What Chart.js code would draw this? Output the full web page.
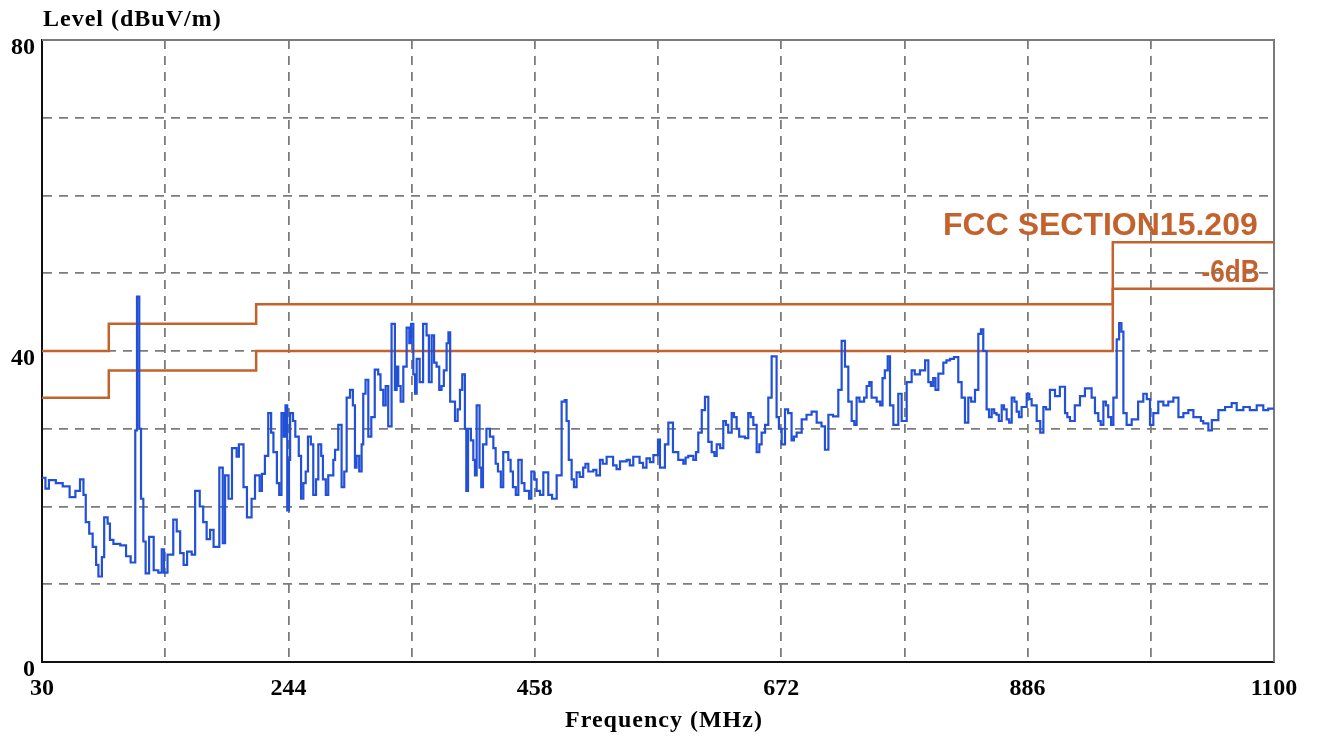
<!DOCTYPE html>
<html>
<head>
<meta charset="utf-8">
<script src="https://cdn.jsdelivr.net/npm/chart.js@4.4.1/dist/chart.umd.min.js"></script>
<style>
  html, body { margin: 0; padding: 0; background: #fff; }
  #wrap { width: 1319px; height: 742px; }
</style>
</head>
<body>
<div id="wrap"><canvas id="chart"></canvas></div>
<script>
// axis text
const yTitle = 'Level (dBuV/m)';
const xTitle = 'Frequency (MHz)';
const xLabels = [30, 244, 458, 672, 886, 1100];
const yLabels = [0, 40, 80];

// FCC 15.209 limit and -6dB margin line (stepped)
const limitName = 'FCC SECTION15.209';
const marginName = '-6dB';
const limitFreq = [30, 88, 216, 960, 1100];
const limitLevel = [40, 43.5, 46, 54, 54];
const marginLevel = [34, 37.5, 40, 48, 48];

const traceFreq = [
  30, 33, 36, 42, 48, 54, 59, 63, 66, 68, 71, 74, 77, 79, 82, 84, 87, 89, 92, 98,
  103, 107, 111, 112.5, 114.5, 116, 118, 120, 123, 127, 131, 134, 136, 139, 144, 147, 150, 153, 156, 160,
  163, 167, 170, 173, 176, 179, 184, 187, 189, 192, 195, 199, 201, 205, 208, 212,
  215, 219, 221, 223.6, 226.5, 229, 231, 234, 236, 238, 240, 241.5, 243, 244.5, 245.5, 248, 250, 253, 255, 257,
  259, 261, 263.5, 265.6, 268, 270, 272.5, 274, 276.5, 278.6, 283, 284.5, 287.3, 290.2, 292.5, 294.6, 297.5, 300, 301.8, 303.2,
  305.5, 307.6, 309, 311, 313.4, 316, 319, 322, 324, 326.4, 328.5, 330.7, 333.6, 336.5, 338, 339.4, 341.5, 343.8, 346.7, 349,
  350.5, 352.5, 354, 355.4, 358, 361, 364, 366, 368.4, 370.5, 372.7, 375, 377, 379, 381.4, 383, 384.5, 388.7, 391, 393,
  395, 397.3, 398.5, 400, 402.5, 404.6, 406, 407.5, 410, 411.5, 413, 416, 419, 422, 424, 426, 428.5, 430.6, 435, 437,
  439, 441.5, 443.7, 446.6, 449, 451, 453, 455, 457.5, 459.6, 462.5, 465.4, 469.7, 473, 477, 481.3, 484, 485.6, 487.5, 490,
  492, 494.3, 497, 500, 502, 504.5, 508.8, 511.5, 514.6, 517, 520.4, 526, 529, 532, 537.8, 540.5, 543.5, 549, 552, 555,
  558, 561, 565, 566.7, 571, 574, 578,
  582.6, 587, 589, 591.3, 595.7, 598, 600, 603, 605.8, 608.7, 611.6, 614, 616, 619, 621.7, 624, 626, 629, 631, 633.3,
  635.5, 637.6, 640.5, 643.4, 645.5, 647.8, 650.7, 653, 655, 658, 660.8, 663.7, 668, 670, 672.4, 675.3, 678, 681, 683, 685.4,
  689.8, 694, 698.4, 702.8, 707, 710, 713, 717, 721.6, 724.5, 727.4, 730.3, 733.2, 735.5, 737.5, 740, 742, 744, 746.2, 748.5,
  750.5, 754.9, 758,
  760, 762, 764.5, 766.5, 769.4, 773.7, 776.6, 781, 785.3, 788, 792.5, 797, 799.8, 802, 804, 806, 808.5, 812.8, 815.5, 818.6,
  822, 825.8, 828.7, 831.6, 834.5, 837, 840.3, 843.2, 845.5, 847.5, 850.4, 852.5, 854.8, 857, 859, 861, 863.5, 865.5, 867.8, 870,
  872.2, 874.5, 876.5, 878.5, 880.8, 885.2, 887.5, 889.5, 893.9, 897, 899.7, 902, 905.4, 909.8, 914, 918.5, 920.5, 922.8, 927, 931.5,
  935.8, 941.6,
  944.5, 947.4, 949.5, 951.8, 954, 956, 958.5, 960.5, 963.4, 965.5, 967.5, 969.2, 972, 976.4, 982, 986.5, 989.5, 992.3, 995.2, 999.5,
  1003.9, 1008.2, 1012.6, 1017, 1021.3, 1025.6, 1030, 1034.3, 1036.5, 1038.6, 1043, 1046, 1051.7, 1057.5, 1063.2, 1067.6, 1073.4, 1079, 1085, 1090.7,
  1095, 1100
];
const traceLevel = [
  23.7, 22.3, 23.4, 23.0, 22.6, 21.2, 22.0, 23.5, 21.5, 18.0, 16.5, 14.8, 12.5, 11.0, 13.5, 18.6, 17.8, 15.7, 15.2, 15.0,
  13.6, 12.8, 29.8, 47.0, 30.0, 21.0, 15.5, 11.4, 16.1, 11.8, 11.5, 14.5, 11.5, 13.8, 18.3, 16.8, 14.0, 12.5, 14.2, 13.8,
  22.0, 20.0, 18.0, 15.8, 17.0, 14.8, 25.0, 15.3, 24.0, 21.0, 27.5, 26.4, 28.0, 22.5, 18.6, 21.0,
  24.0, 22.0, 24.2, 26.5, 32.0, 29.5, 27.0, 23.0, 21.5, 32.0, 29.0, 33.0, 19.5, 26.0, 32.0, 31.0, 29.0, 26.5, 21.0, 23.0,
  24.5, 29.0, 28.0, 21.5, 23.5, 28.0, 26.5, 23.5, 21.5, 24.0, 26.0, 27.3, 30.5, 22.5, 24.5, 34.0, 35.0, 33.0, 25.0, 26.5,
  24.5, 28.0, 34.5, 36.3, 29.0, 31.5, 37.6, 37.0, 35.0, 33.0, 35.5, 30.3, 43.5, 35.0, 38.0, 35.5, 33.5, 38.0, 43.0, 41.0,
  43.5, 37.0, 34.5, 39.0, 36.0, 43.5, 42.0, 36.0, 42.0, 38.5, 38.0, 35.0, 35.5, 37.5, 41.0, 42.4, 33.5, 31.0, 32.5, 35.0,
  37.0, 30.0, 22.0, 30.0, 28.5, 26.0, 24.0, 33.0, 25.0, 22.5, 28.0, 30.0, 29.0, 27.5, 25.5, 24.5, 22.5, 27.0, 26.0, 24.5,
  22.5, 21.5, 26.0, 23.0, 22.0, 22.0, 21.0, 24.5, 23.5, 22.0, 21.5, 24.4, 21.5, 21.0, 24.0, 33.5, 33.7, 31.0, 26.0, 23.5,
  22.5, 24.4, 23.8, 25.0, 25.5, 24.5, 24.7, 24.0, 26.0, 25.5, 26.4, 25.3, 24.8, 25.8, 26.0, 25.3, 26.4, 25.6, 25.0, 26.2,
  25.7, 26.6, 28.6, 25.0, 28.0, 30.8, 27.0,
  26.0, 25.5, 26.3, 26.5, 26.0, 27.0, 29.5, 32.4, 34.1, 28.3, 27.0, 26.5, 28.0, 27.5, 31.0, 30.5, 29.5, 32.0, 31.5, 30.0,
  29.0, 29.0, 28.8, 32.0, 31.5, 30.5, 27.0, 28.0, 29.5, 30.5, 34.0, 39.3, 31.5, 30.0, 28.0, 32.5, 32.0, 28.5, 29.0, 29.5,
  31.2, 31.8, 32.2, 30.8, 30.3, 27.3, 31.8, 31.6, 35.0, 41.3, 38.0, 33.5, 31.0, 30.5, 34.0, 33.5, 33.5, 34.0, 35.5, 36.0,
  34.0, 33.5, 33.0,
  36.5, 37.5, 39.3, 33.0, 30.5, 34.5, 31.0, 36.0, 37.5, 37.0, 37.5, 38.8, 36.0, 35.5, 36.5, 35.0, 37.1, 38.5, 38.8, 39.0,
  39.2, 36.0, 34.0, 30.8, 34.0, 33.5, 35.0, 42.2, 42.8, 40.0, 32.5, 31.5, 32.5, 32.0, 31.8, 31.0, 33.0, 32.5, 31.2, 30.8,
  34.0, 33.5, 32.2, 31.5, 32.8, 34.5, 33.8, 33.0, 31.0, 29.5, 32.8, 32.5, 35.0, 34.2, 35.4, 32.0, 31.5, 31.0, 33.0, 34.2,
  35.2, 34.0,
  32.0, 31.0, 30.5, 33.5, 33.0, 31.5, 30.5, 34.0, 41.5, 43.6, 42.5, 32.0, 30.5, 31.2, 33.5, 34.5, 33.8, 30.5, 32.0, 33.5,
  33.0, 33.5, 34.0, 31.5, 32.0, 32.4, 31.5, 31.5, 31.0, 30.7, 29.8, 31.1, 32.4, 32.8, 33.3, 32.4, 32.8, 32.4, 33.0, 32.4,
  32.6, 32.6
];

const limitColor = '#c4622d';
const traceColor = '#2250d6';

const toPoints = (xs, ys) => xs.map((f, i) => ({ x: f, y: ys[i] }));

const overlayPlugin = {
  id: 'overlay',
  beforeDatasetsDraw(chart) {
    const { ctx, chartArea: a } = chart;
    // grey frame on top / right, like the analyzer plot
    ctx.save();
    ctx.strokeStyle = '#7a7a7a';
    ctx.lineWidth = 2;
    ctx.beginPath();
    ctx.moveTo(a.left, a.top);
    ctx.lineTo(a.right, a.top);
    ctx.lineTo(a.right, a.bottom);
    ctx.stroke();
    ctx.restore();
  },
  afterDraw(chart) {
    const { ctx, chartArea: a, scales: { x, y } } = chart;
    ctx.save();
    ctx.fillStyle = '#000';
    ctx.font = 'bold 24px "Liberation Serif", serif';
    ctx.letterSpacing = '1px';
    ctx.textAlign = 'left';
    ctx.fillText(yTitle, a.left + 1, 26);
    ctx.textAlign = 'center';
    ctx.fillText(xTitle, (a.left + a.right) / 2 + 6, 727);
    ctx.letterSpacing = '0px';

    ctx.fillStyle = limitColor;
    ctx.font = 'bold 32px "Liberation Sans", sans-serif';
    ctx.textAlign = 'left';
    ctx.fillText(limitName, x.getPixelForValue(812.5), y.getPixelForValue(54.9), 319);
    ctx.textAlign = 'right';
    ctx.fillText(marginName, x.getPixelForValue(1087.5), y.getPixelForValue(48.9), 58);
    ctx.restore();
  }
};

const ctx = document.getElementById('chart').getContext('2d');
new Chart(ctx, {
  type: 'line',
  data: {
    datasets: [
      {
        label: 'Level',
        data: toPoints(traceFreq, traceLevel),
        borderColor: traceColor,
        borderWidth: 2.2,
        stepped: 'before',
        pointRadius: 0,
        order: 1
      },
      {
        label: limitName,
        data: toPoints(limitFreq, limitLevel),
        borderColor: limitColor,
        borderWidth: 2.5,
        stepped: 'before',
        pointRadius: 0,
        order: 2
      },
      {
        label: marginName,
        data: toPoints(limitFreq, marginLevel),
        borderColor: limitColor,
        borderWidth: 2.5,
        stepped: 'before',
        pointRadius: 0,
        order: 2
      }
    ]
  },
  options: {
    responsive: true,
    maintainAspectRatio: false,
    devicePixelRatio: 1,
    animation: false,
    layout: { padding: { left: 0, top: 40, right: 45, bottom: 0 } },
    plugins: {
      legend: { display: false },
      tooltip: { enabled: false }
    },
    scales: {
      x: {
        type: 'linear',
        min: 30,
        max: 1100,
        afterFit: (scale) => { scale.height = 80; },
        ticks: {
          stepSize: 107,
          autoSkip: false,
          maxRotation: 0,
          padding: 12,
          color: '#000',
          font: { family: 'Liberation Serif', size: 24, weight: 'bold' },
          callback: (value) => (xLabels.includes(value) ? String(value) : '')
        },
        grid: { color: '#7c7c7c', lineWidth: 1.8, drawTicks: false },
        border: { display: true, color: '#111', width: 2, dash: [9, 7] }
      },
      y: {
        min: 0,
        max: 80,
        afterFit: (scale) => { scale.width = 42; },
        ticks: {
          stepSize: 10,
          padding: 7,
          labelOffset: 8,
          color: '#000',
          font: { family: 'Liberation Serif', size: 24, weight: 'bold' },
          callback: (value) => (yLabels.includes(value) ? String(value) : '')
        },
        grid: { color: '#7c7c7c', lineWidth: 1.8, drawTicks: false },
        border: { display: true, color: '#111', width: 2, dash: [9, 7] }
      }
    }
  },
  plugins: [overlayPlugin]
});
</script>
</body>
</html>
